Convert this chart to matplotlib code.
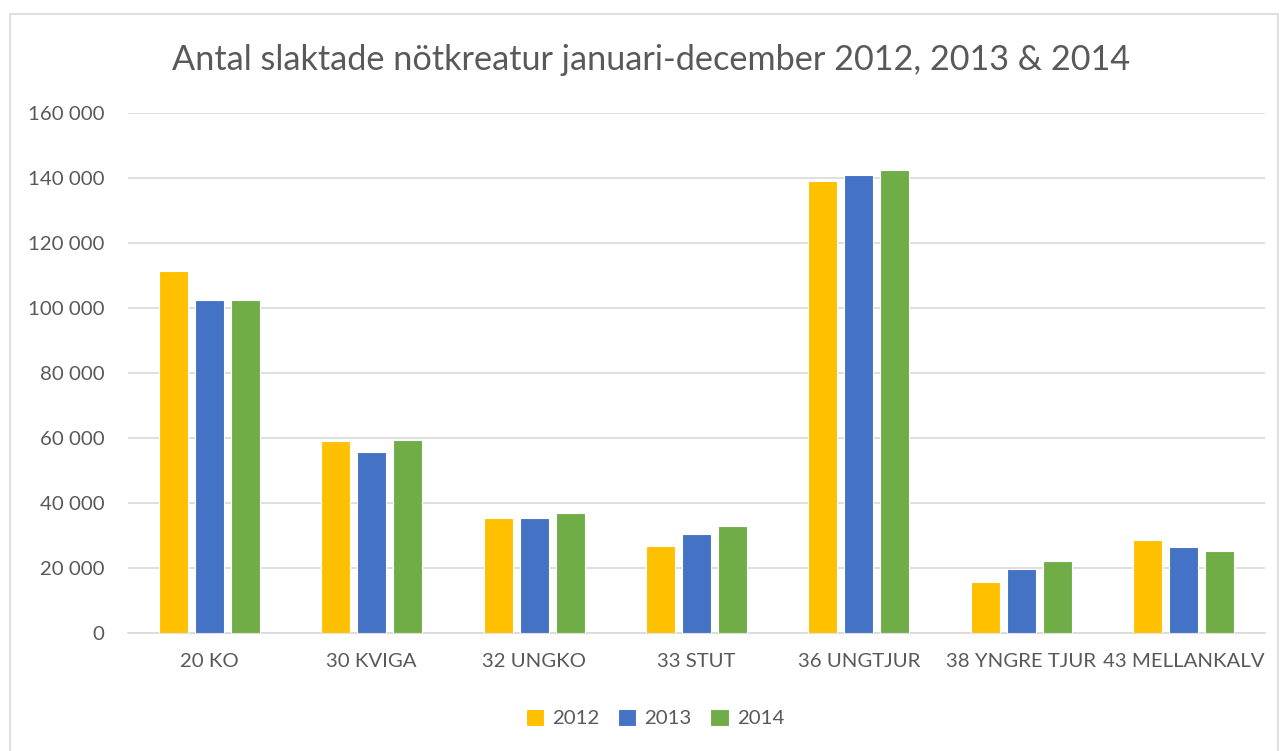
import numpy as np
import matplotlib.pyplot as plt
from matplotlib.patches import Rectangle
from matplotlib.ticker import FuncFormatter

categories = ['20 KO', '30 KVIGA', '32 UNGKO', '33 STUT', '36 UNGTJUR',
              '38 YNGRE TJUR', '43 MELLANKALV']
years = ['2012', '2013', '2014']
v2012 = [111400, 59100, 35400, 26800, 139100, 15700, 28600]
v2013 = [102600, 55700, 35400, 30500, 140900, 19700, 26500]
v2014 = [102600, 59400, 36900, 32900, 142500, 22200, 25200]
colors = ['#FFC000', '#4472C4', '#70AD47']

plt.rcParams['font.family'] = ['Lato', 'DejaVu Sans']

fig = plt.figure(figsize=(12.84, 7.51), dpi=100)
ax = fig.add_axes([128 / 1284, 1 - 633.3 / 751, (1265 - 128) / 1284, 520 / 751])

# light frame around the whole chart
fig.patches.append(Rectangle((10 / 1284, -0.01), 1268 / 1284, 1 - 14 / 751 + 0.01,
                             transform=fig.transFigure, fill=False,
                             edgecolor='#D9D9D9', linewidth=1.2))

x = np.arange(len(categories))
step = 0.2217
width = 0.178
for i, (vals, c, lab) in enumerate(zip([v2012, v2013, v2014], colors, years)):
    ax.bar(x + (i - 1) * step, vals, width, color=c, edgecolor='white',
           linewidth=0.8, label=lab, zorder=3)

ax.set_xlim(-0.5, len(categories) - 0.5)
ax.set_ylim(0, 160000)
ax.set_yticks(range(0, 160001, 20000))
ax.yaxis.set_major_formatter(FuncFormatter(lambda v, p: f'{int(v):,}'.replace(',', ' ')))
ax.set_xticks(x)
ax.set_xticklabels(categories)
ax.grid(axis='y', color='#D9D9D9', linewidth=1.2, zorder=0)
for s in ['top', 'right', 'left']:
    ax.spines[s].set_visible(False)
ax.spines['bottom'].set_color('#D9D9D9')
ax.spines['bottom'].set_linewidth(1.2)
ax.tick_params(axis='both', length=0, labelsize=14.7, colors='#595959')
ax.tick_params(axis='y', pad=17)
ax.tick_params(axis='x', pad=14)

fig.text(651.5 / 1284, 1 - 60 / 751, 'Antal slaktade nötkreatur januari-december 2012, 2013 & 2014',
         ha='center', va='center', fontsize=24.7, color='#595959')

leg = fig.legend(loc='center', bbox_to_anchor=(655 / 1284, 1 - 718 / 751), ncol=3,
                 frameon=False, fontsize=14.7, handlelength=0.9, handleheight=0.9,
                 handletextpad=0.4, columnspacing=0.9)
for t in leg.get_texts():
    t.set_color('#595959')

fig.savefig('out.png', dpi=100)
